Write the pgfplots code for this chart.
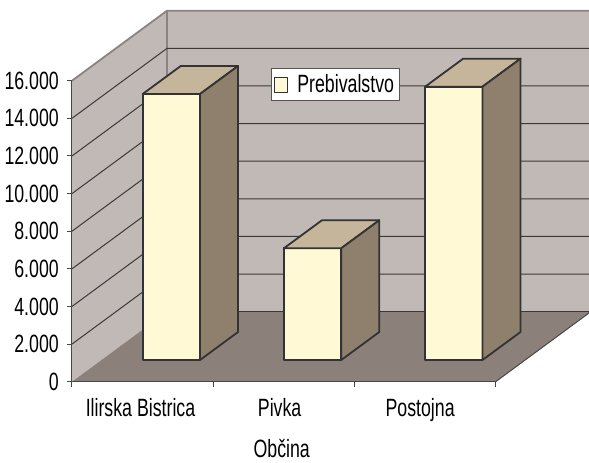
\documentclass[border=0pt]{standalone}
\usepackage{fontspec}
\setmainfont{Liberation Sans}[FakeStretch=0.71]
\usepackage{pgfplots}
\usepackage{pgfplotstable}
\pgfplotsset{compat=1.18}

\definecolor{wall}{RGB}{193,185,182}
\definecolor{floorc}{RGB}{140,128,123}
\definecolor{barfront}{RGB}{255,249,214}
\definecolor{bartop}{RGB}{196,181,155}
\definecolor{barside}{RGB}{143,127,109}
\definecolor{edge}{RGB}{51,51,51}
\definecolor{gridc}{RGB}{60,56,56}
\definecolor{axisc}{RGB}{70,70,70}
\definecolor{rimc}{RGB}{140,130,130}
\definecolor{legendc}{RGB}{85,85,85}

% bar faces in (x offset, depth fraction, height fraction)
\pgfplotstableread{
x d h
0 0.31 0
0.406 0.31 0
0.406 0.31 1
0 0.31 1
}\frontface
\pgfplotstableread{
x d h
0 0.31 1
0.406 0.31 1
0.406 0.71 1
0 0.71 1
}\topface
\pgfplotstableread{
x d h
0.406 0.31 0
0.406 0.71 0
0.406 0.71 1
0.406 0.31 1
}\sideface

\newcommand{\DX}{0.673}
\newcommand{\DY}{3721}
\newcommand{\cuboid}[3][]{%
  \addplot[fill=barfront, draw=edge, line width=1.8bp, line join=round, #1]
    table[x expr={#2+\thisrow{x}+\DX*\thisrow{d}}, y expr={#3*\thisrow{h}+\DY*\thisrow{d}}] {\frontface} -- cycle;
  \addplot[forget plot, fill=bartop, draw=edge, line width=1.8bp, line join=round]
    table[x expr={#2+\thisrow{x}+\DX*\thisrow{d}}, y expr={#3*\thisrow{h}+\DY*\thisrow{d}}] {\topface} -- cycle;
  \addplot[forget plot, fill=barside, draw=edge, line width=1.8bp, line join=round]
    table[x expr={#2+\thisrow{x}+\DX*\thisrow{d}}, y expr={#3*\thisrow{h}+\DY*\thisrow{d}}] {\sideface} -- cycle;
}

\begin{document}
\begin{tikzpicture}[font=\fontsize{25bp}{30bp}\selectfont]
\path[use as bounding box] (-72bp,-81.3bp) rectangle (517bp,381.7bp);
\begin{axis}[
  scale only axis, width=423.7bp, height=301bp,
  xmin=0, xmax=3, ymin=0, ymax=16000,
  clip=false, axis on top=true,
  unbounded coords=jump,
  axis lines*=left,
  axis line style={axisc, line width=1bp, -},
  tick align=outside, major tick length=5bp,
  tick style={axisc, line width=1bp},
  xtick={0,1,2,3}, xticklabels={},
  extra x ticks={0.485,1.47,2.465},
  extra x tick labels={Ilirska Bistrica,Pivka,Postojna},
  extra x tick style={major tick length=0pt},
  xticklabel style={anchor=base, yshift=-35bp},
  ytick={0,2000,4000,6000,8000,10000,12000,14000,16000},
  scaled y ticks=false,
  /pgf/number format/1000 sep={.},
  /pgf/number format/assume math mode=true,
  yticklabel style={anchor=east, inner sep=0pt, xshift=-8bp},
  xlabel={Občina},
  xlabel style={at={(axis description cs:0.495,0)}, anchor=base, yshift=-76bp},
  legend style={at={(0.621,0.987)}, anchor=center, draw=legendc, line width=1bp,
    fill=white, inner xsep=3bp, inner ysep=4bp,
    /tikz/every odd column/.append style={column sep=7bp}},
  legend image code/.code={\draw[#1, line width=1.2bp] (0bp,-7.5bp) rectangle (13bp,7.5bp);},
]
% back wall
\addplot[forget plot, fill=wall, draw=none] coordinates {(0.673,3721) (3.673,3721) (3.673,19721) (0.673,19721)} -- cycle;
% left wall
\addplot[forget plot, fill=wall, draw=none] coordinates {(0,0) (0,16000) (0.673,19721) (0.673,3721)} -- cycle;
% floor
\addplot[forget plot, fill=floorc, draw=none] coordinates {(0,0) (3,0) (3.673,3721) (0.673,3721)} -- cycle;
% wall corner and top rims
\addplot[forget plot, rimc, line width=1.5bp] coordinates {(0.673,3721) (0.673,19721)};
\addplot[forget plot, rimc, line width=1.8bp] coordinates {(0,16000) (0.673,19721) (3.673,19721)};
% gridlines
\addplot[forget plot, gridc, line width=1bp] table[row sep=\\] {
x y\\
0 2000\\ 0.673 5721\\ 3.673 5721\\ nan nan\\
0 4000\\ 0.673 7721\\ 3.673 7721\\ nan nan\\
0 6000\\ 0.673 9721\\ 3.673 9721\\ nan nan\\
0 8000\\ 0.673 11721\\ 3.673 11721\\ nan nan\\
0 10000\\ 0.673 13721\\ 3.673 13721\\ nan nan\\
0 12000\\ 0.673 15721\\ 3.673 15721\\ nan nan\\
0 14000\\ 0.673 17721\\ 3.673 17721\\
};
% floor edges
\addplot[forget plot, gridc, line width=1.2bp] coordinates {(0.673,3721) (3.673,3721)};
\addplot[forget plot, axisc, line width=1bp] coordinates {(3,0) (3.673,3721)};
% bars
\cuboid{0.292}{14140}
\cuboid[forget plot]{1.292}{5940}
\cuboid[forget plot]{2.292}{14530}
\legend{Prebivalstvo}
\end{axis}
\end{tikzpicture}
\end{document}
